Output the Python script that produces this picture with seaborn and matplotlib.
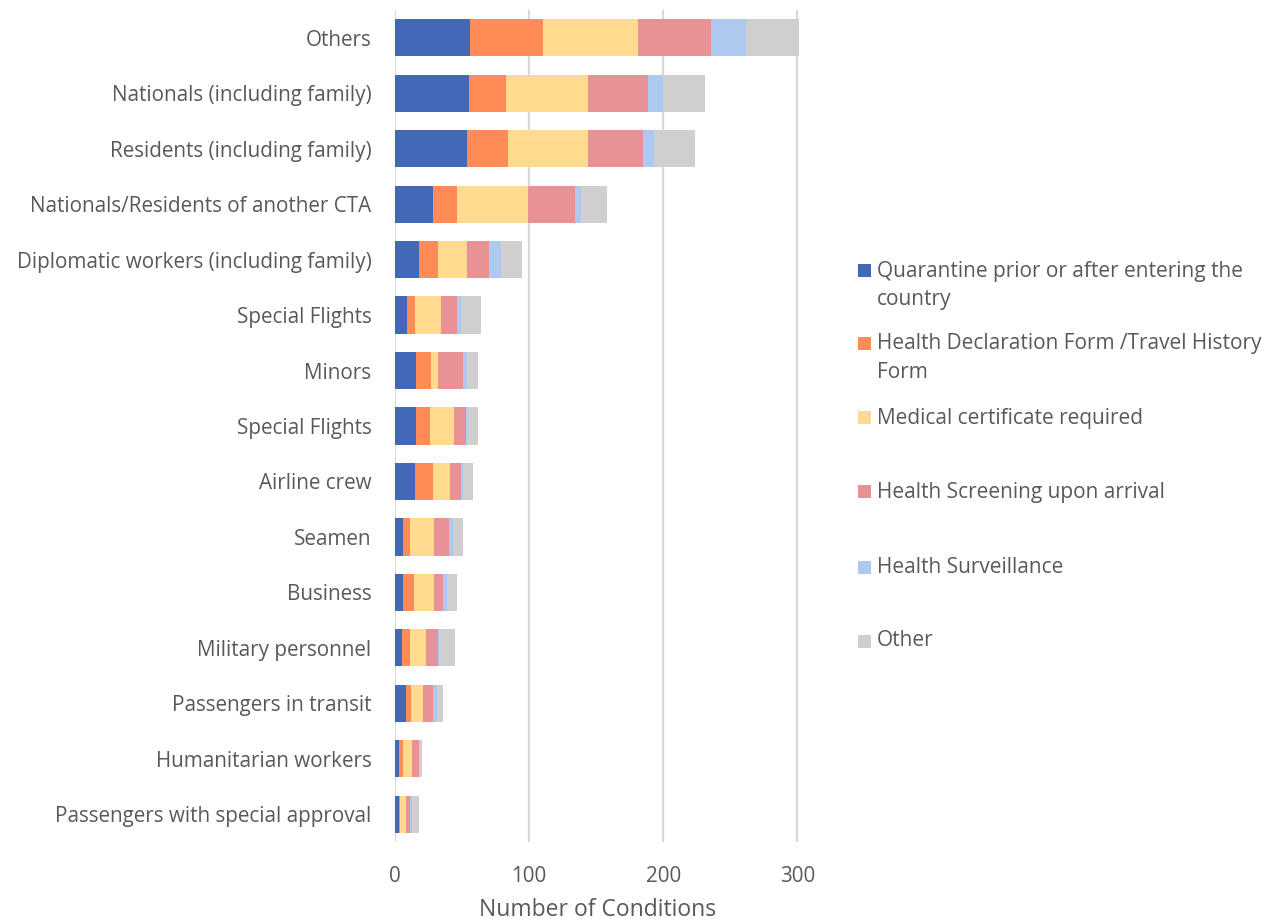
import matplotlib
matplotlib.use("Agg")
import matplotlib.pyplot as plt
from matplotlib.patches import Rectangle
import seaborn as sns
import pandas as pd
import numpy as np

categories = [
    "Others",
    "Nationals (including family)",
    "Residents (including family)",
    "Nationals/Residents of another CTA",
    "Diplomatic workers (including family)",
    "Special Flights",
    "Minors",
    "Special Flights",
    "Airline crew",
    "Seamen",
    "Business",
    "Military personnel",
    "Passengers in transit",
    "Humanitarian workers",
    "Passengers with special approval",
]

series_names = [
    "Quarantine prior or after entering the\ncountry",
    "Health Declaration Form /Travel History\nForm",
    "Medical certificate required",
    "Health Screening upon arrival",
    "Health Surveillance",
    "Other",
]

quarantine = [56, 55, 54, 28, 18, 9, 16, 16, 15, 6, 6, 5, 8, 3, 3]
health_decl = [54, 28, 30, 18, 14, 6, 11, 10, 13, 5, 8, 6, 4, 3, 1]
medical = [71, 61, 60, 53, 22, 19, 5, 18, 13, 18, 15, 12, 9, 7, 4]
screening = [55, 45, 41, 35, 16, 12, 19, 9, 8, 11, 7, 9, 7, 5, 3]
surveillance = [26, 11, 8, 5, 9, 3, 3, 1, 2, 3, 3, 1, 3, 0, 2]
other = [39, 31, 31, 19, 16, 15, 8, 8, 7, 8, 7, 12, 5, 2, 5]

colors = ["#4169B8", "#FF8C56", "#FFDA8F", "#E89296", "#ADC9EF", "#D0CECE"]

series = [quarantine, health_decl, medical, screening, surveillance, other]

sns.set_style("white")
plt.rcParams["font.family"] = ["Open Sans", "DejaVu Sans"]

fig = plt.figure(figsize=(12.66, 9.21), dpi=100)
W, H = 1266, 921
ax = fig.add_axes([395 / W, 1 - 842 / H, (800 - 395) / W, (842 - 10) / H])

keys = [f"{i}_{c}" for i, c in enumerate(categories)]
cum = np.cumsum(np.array(series, dtype=float), axis=0)

# draw from the full stack down so that each layer shows its own segment
for k in range(len(series) - 1, -1, -1):
    df = pd.DataFrame({"key": keys, "value": cum[k]})
    sns.barplot(data=df, x="value", y="key", orient="h", color=colors[k],
                width=0.67, errorbar=None, ax=ax, order=keys,
                linewidth=0, saturation=1)

ax.set_xlim(0, 302)
ax.set_ylim(len(keys) - 0.5, -0.5)
ax.set_xticks([0, 100, 200, 300])
ax.set_yticks(range(len(keys)))
ax.set_yticklabels(categories)
ax.xaxis.grid(True, color="#D9D9D9", linewidth=1.6)
ax.set_axisbelow(True)
for s in ax.spines.values():
    s.set_visible(False)
ax.tick_params(axis="y", length=0, pad=17, labelsize=14.9, labelcolor="#595959")
ax.tick_params(axis="x", length=0, pad=17, labelsize=14.9, labelcolor="#595959")
ax.set_ylabel("")
ax.set_xlabel("Number of Conditions", fontsize=16.5, color="#595959", labelpad=8)

# legend drawn manually (Excel style: marker aligned with first line)
legend_y = [271, 344, 418, 492, 567, 641]
line_gap = 29
for name, col, yy in zip(series_names, colors, legend_y):
    fig.patches.append(Rectangle((858 / W, 1 - (yy + 6.5) / H), 13 / W, 13 / H,
                                 transform=fig.transFigure, facecolor=col,
                                 edgecolor="none"))
    for i, line in enumerate(name.split("\n")):
        fig.text(877 / W, 1 - (yy + i * line_gap) / H, line, fontsize=15,
                 color="#595959", va="center", ha="left")

fig.savefig("out.png", dpi=100)
